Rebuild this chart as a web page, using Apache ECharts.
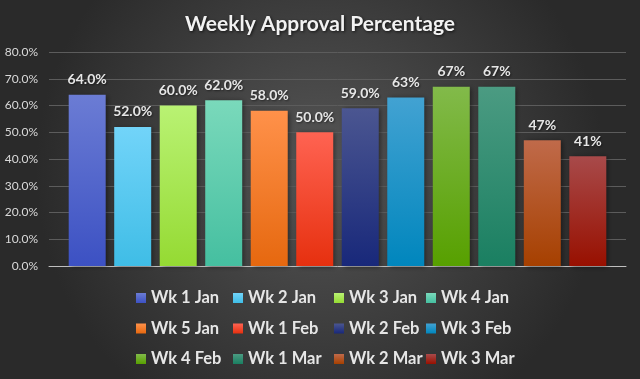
<!DOCTYPE html>
<html>
<head>
<meta charset="utf-8">
<script src="https://cdn.jsdelivr.net/npm/echarts@6/dist/echarts.min.js"></script>
<style>html,body{margin:0;padding:0;background:#333;}#c{width:640px;height:379px;}</style>
</head>
<body>
<div id="c"></div>
<script>
var weeks = ['Wk 1 Jan','Wk 2 Jan','Wk 3 Jan','Wk 4 Jan','Wk 5 Jan','Wk 1 Feb','Wk 2 Feb','Wk 3 Feb','Wk 4 Feb','Wk 1 Mar','Wk 2 Mar','Wk 3 Mar'];
var approval = [64, 52, 60, 62, 58, 50, 59, 63, 67, 67, 47, 41];
var labelDecimals = [1,1,1,1,1,1,1,0,0,0,0,0];
var yTicks = [0,10,20,30,40,50,60,70,80];
var topColors = ['#6b7cd4','#72d4f9','#b9f273','#7ad9bb','#ff914a','#ff6352','#4b5691','#42a2d2','#82ba4a','#4b9b82','#c06a4a','#a84a4a'];
var bottomColors = ['#3c51c3','#3fbde6','#95da33','#45bfa0','#e6680f','#e6300f','#18287a','#0086bd','#57a000','#1a7f61','#a64000','#981000'];

var series = weeks.map(function(name, i){
  return {
    name: name,
    type: 'bar',
    barWidth: 37,
    barGap: '23%',
    data: [approval[i]],
    itemStyle: {
      color: new echarts.graphic.LinearGradient(0,0,0,1,[{offset:0,color:topColors[i]},{offset:1,color:bottomColors[i]}]),
      shadowColor: 'rgba(0,0,0,0.45)', shadowBlur: 5, shadowOffsetX: 2, shadowOffsetY: 1
    },
    label: {
      show: true, position: 'top', distance: 8,
      color: '#e6e6e6', fontFamily: 'Lato', fontWeight: 'bold', fontSize: 14,
      textShadowColor: 'rgba(0,0,0,0.5)', textShadowBlur: 2, textShadowOffsetX: 1, textShadowOffsetY: 1,
      formatter: function(p){ return p.value.toFixed(labelDecimals[i]) + '%'; }
    }
  };
});

var legendCols = [133, 230, 331, 423];
var legends = legendCols.map(function(x, c){
  return {
    data: [weeks[c], weeks[c+4], weeks[c+8]],
    orient: 'vertical', left: x - 2, top: 283,
    icon: 'rect', itemWidth: 10, itemHeight: 10, itemGap: 10.5,
    textStyle: { color: '#e6e6e6', fontFamily: 'Lato', fontWeight: 'bold', fontSize: 16.5, lineHeight: 20 }
  };
});

var chart = echarts.init(document.getElementById('c'));
chart.setOption({
  animation: false,
  backgroundColor: new echarts.graphic.RadialGradient(0.5, 0.45, 0.75, [{offset:0,color:'#565656'},{offset:1,color:'#2a2a2a'}]),
  title: {
    text: 'Weekly Approval Percentage', left: 'center', top: 9,
    textStyle: { color: '#f2f2f2', fontFamily: 'Lato', fontWeight: 'bold', fontSize: 21,
      textShadowColor: 'rgba(0,0,0,0.7)', textShadowBlur: 3, textShadowOffsetX: 1, textShadowOffsetY: 1 }
  },
  grid: { left: 49, right: 14, top: 52, bottom: 113, containLabel: false },
  xAxis: {
    type: 'category', data: [''],
    axisLine: { lineStyle: { color: '#bfbfbf', width: 1 } },
    axisTick: { show: false }, axisLabel: { show: false }
  },
  yAxis: {
    type: 'value', min: yTicks[0], max: yTicks[yTicks.length-1], interval: 10,
    axisLine: { show: false }, axisTick: { show: false },
    splitLine: { lineStyle: { color: '#5c5c5c', width: 1 } },
    axisLabel: { color: '#d9d9d9', fontFamily: 'Lato', fontSize: 12, margin: 11,
      formatter: function(v){ return v.toFixed(1) + '%'; } }
  },
  legend: legends,
  series: series
});
</script>
</body>
</html>
